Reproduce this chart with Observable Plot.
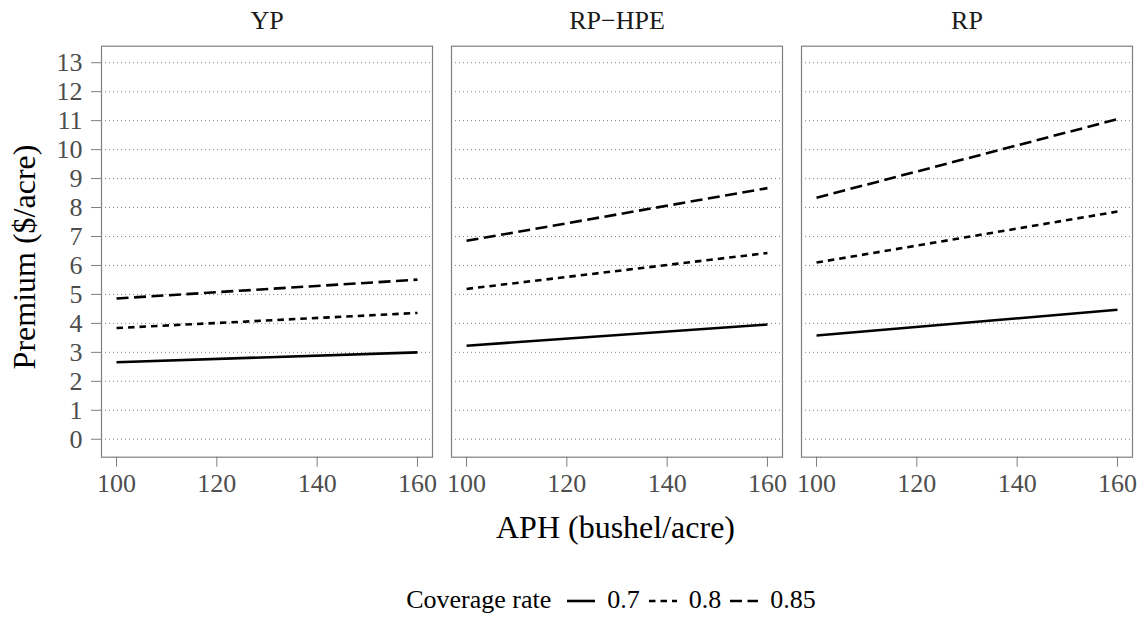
<!DOCTYPE html>
<html>
<head>
<meta charset="utf-8">
<script src="https://cdn.jsdelivr.net/npm/d3@7"></script>
<script src="https://cdn.jsdelivr.net/npm/@observablehq/plot@0.6"></script>
<style>
  body { margin: 0; background: #fff; font-family: "Liberation Serif", "Times New Roman", serif; }
  #chart svg, #chart svg text { font-family: "Liberation Serif", "Times New Roman", serif !important; }
  #wrap { position: relative; width: 1145px; }
  #ytitle { position: absolute; left: 24px; top: 257px; transform: translate(-50%, -50%) rotate(-90deg);
            white-space: nowrap; font-size: 32px; line-height: 1; color: #000; }
  #xtitle { width: 1145px; box-sizing: border-box; padding-left: 86px; text-align: center;
            font-size: 32px; line-height: 32px; margin-top: 6px; color: #000; }
  #legend { width: 1145px; box-sizing: border-box; padding-left: 86px; display: flex; justify-content: center;
            align-items: center; font-size: 26px; line-height: 26px; margin-top: 44px; color: #000; }
  #legend .ttl { margin-right: 16px; }
  #legend svg { margin-right: 12px; }
  #legend .lab { margin-right: 9px; }
</style>
</head>
<body>
<div id="wrap">
  <div id="chart"></div>
  <div id="ytitle">Premium ($/acre)</div>
  <div id="xtitle">APH (bushel/acre)</div>
  <div id="legend"></div>
</div>
<script>
// ---- data ----
const plans = ["YP", "RP−HPE", "RP"];
const coverageRates = [0.7, 0.8, 0.85];
const aphValues = [100, 160];
// premium at APH 100 and 160, one pair per coverage rate (0.7, 0.8, 0.85)
const premiumYP    = [[2.66, 3.00], [3.84, 4.36], [4.86, 5.51]];
const premiumRPHPE = [[3.23, 3.96], [5.19, 6.43], [6.85, 8.67]];
const premiumRP    = [[3.58, 4.47], [6.10, 7.86], [8.34, 11.05]];
const xTicks = [100, 120, 140, 160];
const yTicks = [0, 1, 2, 3, 4, 5, 6, 7, 8, 9, 10, 11, 12, 13];
const legendTitle = "Coverage rate";

// ---- table ----
const premiumsByPlan = [premiumYP, premiumRPHPE, premiumRP];
const rows = [];
plans.forEach((plan, p) => {
  coverageRates.forEach((cov, c) => {
    aphValues.forEach((aph, a) => {
      rows.push({plan, coverage: cov, aph, premium: premiumsByPlan[p][c][a]});
    });
  });
});

const dashes = [null, "6.5,5", "12,5.5"];
const font = "Liberation Serif";

const chart = Plot.plot({
  width: 1145,
  height: 505,
  marginLeft: 100.7,
  marginRight: 13,
  marginTop: 45.7,
  marginBottom: 48.3,
  style: {fontFamily: font, background: "white", overflow: "visible"},
  fx: {domain: plans, paddingInner: 0.054, paddingOuter: 0, label: null},
  x: {domain: [97, 163]},
  y: {domain: [-0.62, 13.57]},
  marks: [
    Plot.gridY(yTicks, {stroke: "#666", strokeOpacity: 1, strokeWidth: 0.8, strokeDasharray: "1,3"}),
    Plot.frame({stroke: "#7f7f7f", strokeWidth: 1.2}),
    ...coverageRates.map((cov, i) =>
      Plot.line(rows.filter(d => d.coverage === cov), {
        x: "aph", y: "premium", fx: "plan", z: "plan",
        stroke: "black", strokeWidth: 2.6, strokeDasharray: dashes[i], strokeLinecap: "butt"
      })
    ),
    Plot.axisX({ticks: xTicks, tickSize: 10, tickPadding: 6, fontSize: 26, fontFamily: font, stroke: "#7f7f7f", fill: "#4d4d4d", label: null}),
    Plot.axisY({ticks: yTicks, tickSize: 10, tickPadding: 9, fontSize: 26, fontFamily: font, stroke: "#7f7f7f", fill: "#4d4d4d", label: null}),
    Plot.axisFx({anchor: "top", tickSize: 0, tickPadding: 17, fontSize: 26, fontFamily: font, fill: "#1a1a1a", label: null})
  ]
});
document.getElementById("chart").appendChild(chart);

// ---- legend ----
const legend = document.getElementById("legend");
const t = document.createElement("span");
t.className = "ttl";
t.textContent = legendTitle;
legend.appendChild(t);
coverageRates.forEach((cov, i) => {
  const s = d3.create("svg").attr("width", 28).attr("height", 20);
  s.append("line").attr("x1", 0).attr("x2", 28).attr("y1", 11).attr("y2", 11)
    .attr("stroke", "black").attr("stroke-width", 2.6)
    .attr("stroke-dasharray", dashes[i]);
  legend.appendChild(s.node());
  const l = document.createElement("span");
  l.className = "lab";
  l.textContent = String(cov);
  legend.appendChild(l);
});
</script>
</body>
</html>
